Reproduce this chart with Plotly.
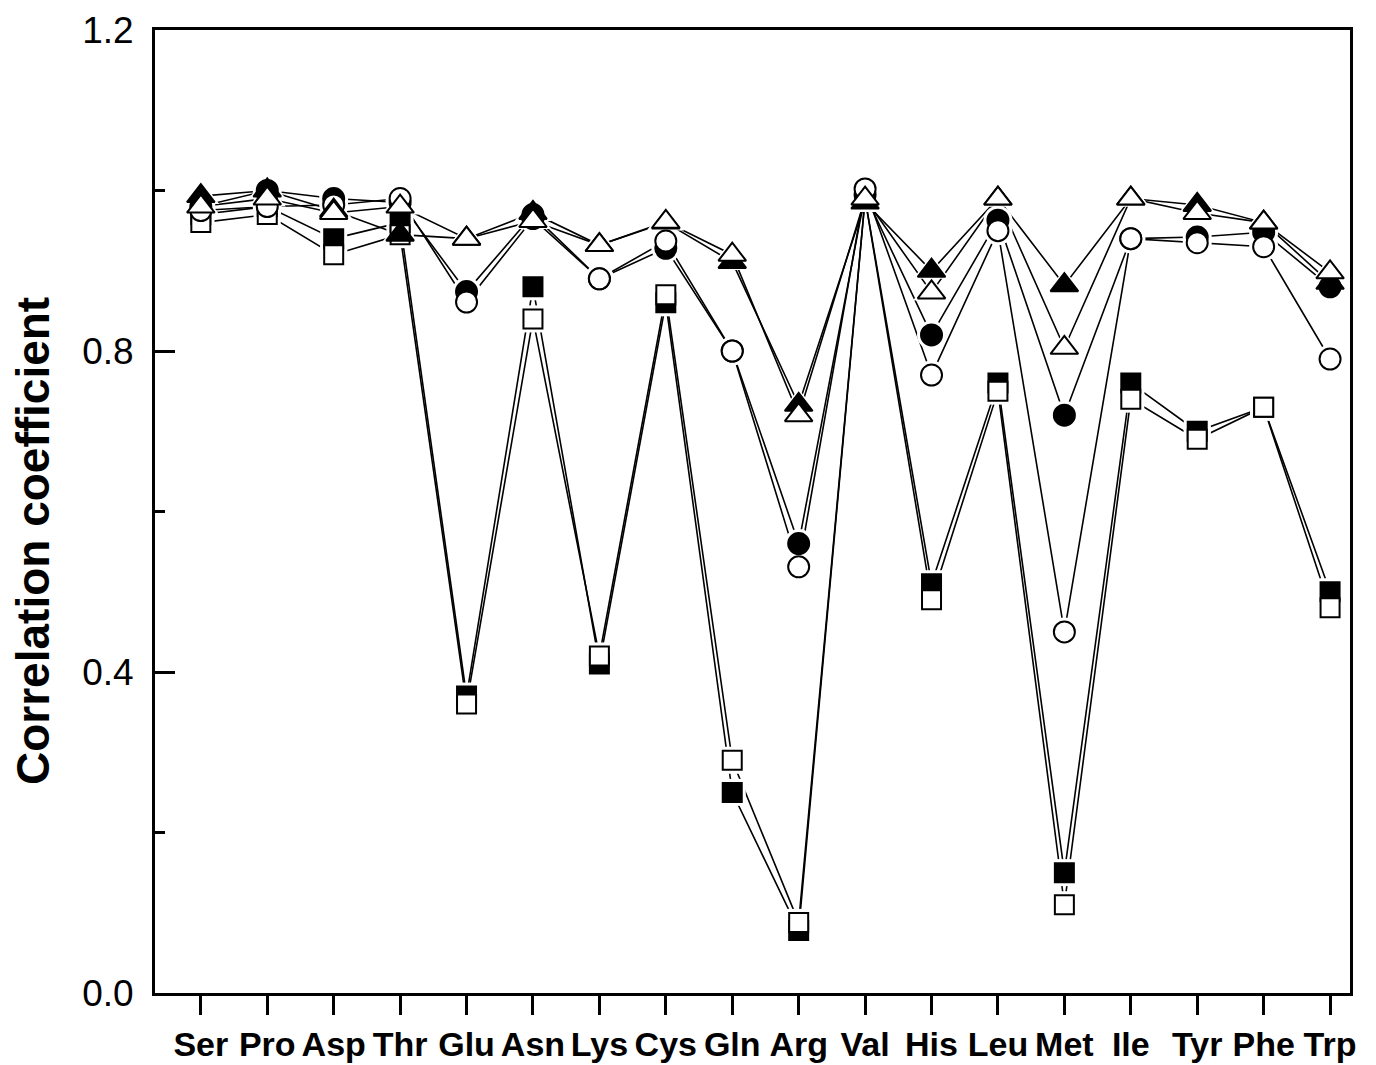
import plotly.graph_objects as go

amino = ["Ser", "Pro", "Asp", "Thr", "Glu", "Asn", "Lys", "Cys", "Gln",
         "Arg", "Val", "His", "Leu", "Met", "Ile", "Tyr", "Phe", "Trp"]

filled_square = [0.97, 0.98, 0.94, 0.96, 0.37, 0.88, 0.41, 0.86, 0.25,
                 0.078, 0.99, 0.51, 0.76, 0.15, 0.76, 0.70, 0.73, 0.50]
open_square = [0.96, 0.97, 0.92, 0.945, 0.36, 0.84, 0.42, 0.87, 0.29,
               0.088, 0.99, 0.49, 0.75, 0.11, 0.74, 0.69, 0.73, 0.48]
filled_circle = [0.98, 1.0, 0.99, 0.985, 0.874, 0.97, 0.89, 0.928, 0.80,
                 0.56, 0.995, 0.82, 0.963, 0.72, 0.94, 0.942, 0.948, 0.88]
open_circle = [0.975, 0.98, 0.982, 0.99, 0.861, 0.965, 0.89, 0.937, 0.80,
               0.531, 1.002, 0.77, 0.95, 0.45, 0.94, 0.935, 0.93, 0.79]
filled_triangle = [0.993, 1.0, 0.975, 0.945, 0.94, 0.972, 0.932, 0.96, 0.911,
                   0.733, 0.985, 0.90, 0.99, 0.882, 0.99, 0.982, 0.96, 0.885]
open_triangle = [0.98, 0.99, 0.972, 0.98, 0.94, 0.962, 0.932, 0.961, 0.92,
                 0.72, 0.99, 0.873, 0.99, 0.804, 0.99, 0.972, 0.96, 0.898]

series = [
    (filled_square, "square", 19, "black"),
    (open_square, "square", 19, "white"),
    (filled_circle, "circle", 21, "black"),
    (open_circle, "circle", 21, "white"),
    (filled_triangle, "triangle-up", 24, "black"),
    (open_triangle, "triangle-up", 24, "white"),
]

fig = go.Figure()

# connecting lines
for vals, sym, sz, fill in series:
    fig.add_trace(go.Scatter(x=amino, y=vals, mode="lines",
                             line=dict(color="black", width=1.6),
                             showlegend=False, hoverinfo="skip"))
# white halos to create gaps between lines and markers
for vals, sym, sz, fill in series:
    fig.add_trace(go.Scatter(x=amino, y=vals, mode="markers",
                             marker=dict(symbol=sym, size=sz + 8, color="white",
                                         line=dict(width=0)),
                             showlegend=False, hoverinfo="skip"))
# markers
for vals, sym, sz, fill in series:
    fig.add_trace(go.Scatter(x=amino, y=vals, mode="markers",
                             marker=dict(symbol=sym, size=sz, color=fill,
                                         line=dict(color="black", width=2)),
                             showlegend=False))

FONT = "Liberation Sans, Arial, sans-serif"

fig.update_layout(
    width=1368, height=1057,
    margin=dict(l=147, r=26, t=22, b=72, autoexpand=False),
    paper_bgcolor="white", plot_bgcolor="white",
    font=dict(family=FONT, color="black"),
)

fig.update_xaxes(
    type="category", categoryorder="array", categoryarray=amino,
    range=[-0.69, 17.30], automargin=False,
    showline=True, linecolor="black", linewidth=3, mirror=True,
    ticks="outside", ticklen=19, tickwidth=3, tickcolor="black",
    tickfont=dict(size=34, family=FONT, weight="bold"),
    ticklabelstandoff=0,
    showgrid=False, zeroline=False,
)

fig.update_yaxes(
    range=[0, 1.2], dtick=0.4, tick0=0, tickformat=".1f", automargin=False,
    showline=True, linecolor="black", linewidth=3, mirror=True,
    ticks="inside", ticklen=20, tickwidth=3, tickcolor="black",
    minor=dict(dtick=0.2, tick0=0, ticks="inside", ticklen=10, tickwidth=3,
               tickcolor="black", showgrid=False),
    tickfont=dict(size=37, family=FONT),
    ticklabelstandoff=11,
    showgrid=False, zeroline=False,
)

fig.add_annotation(
    text="Correlation coefficient", textangle=-90,
    xref="paper", yref="paper", x=(33 - 155) / 1195, y=(993 - 541) / 963,
    xanchor="center", yanchor="middle", showarrow=False,
    font=dict(size=46, family=FONT, weight="bold", color="black"),
)

fig.write_html("out.html")
